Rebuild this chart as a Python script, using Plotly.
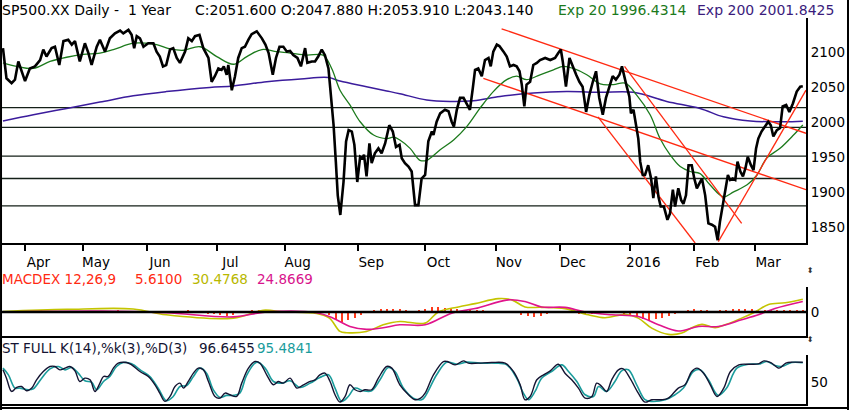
import plotly.graph_objects as go

# bar index (trading days) -> value
close_pts = [
    (0, 2106), (1.1, 2063), (2.7, 2056), (3.75, 2061), (4.8, 2087), (6.9, 2059), (8.4, 2077),
    (10, 2080), (11.6, 2089), (12.6, 2104), (13.6, 2094), (15.2, 2106), (16.25, 2108),
    (17.6, 2082), (18.9, 2116), (20.4, 2118), (21.5, 2111), (22.5, 2116), (24, 2087),
    (25.6, 2113), (26.7, 2099), (27.7, 2082), (29.3, 2108), (30.3, 2118), (31.9, 2101),
    (33.4, 2120), (35, 2127), (36.6, 2131), (37.6, 2127), (39.2, 2132), (40.2, 2125),
    (41, 2106), (41.8, 2123), (42.8, 2120), (43.9, 2108), (45.4, 2113), (47, 2113),
    (48, 2101), (49, 2094), (50, 2080), (51, 2082), (52.2, 2104), (53.2, 2106), (54.3, 2092),
    (55.3, 2085), (56.9, 2101), (57.9, 2120), (59, 2116), (60, 2123), (61.4, 2125),
    (62.6, 2106), (64.2, 2092), (65.2, 2058), (66.2, 2066), (67.3, 2077), (68.3, 2075),
    (69, 2080), (69.9, 2068), (70.4, 2082), (71.5, 2046), (72.5, 2066), (73.5, 2092),
    (74.6, 2106), (75.6, 2108), (76.7, 2118), (77.7, 2126), (79.3, 2130), (80.9, 2120),
    (82, 2111), (83, 2099), (84.3, 2068), (85.3, 2092), (86.4, 2108), (87.6, 2108),
    (88.7, 2101), (89.7, 2102), (90.7, 2096), (92, 2092), (93.1, 2080), (94.4, 2106),
    (95.1, 2085), (96.5, 2087), (97.5, 2087), (98.5, 2094), (99.6, 2104), (100.6, 2096),
    (101.7, 2077), (102.5, 2039), (103.3, 1996), (104, 1944), (104.6, 1896), (105.4, 1868),
    (106.4, 1915), (107.2, 1973), (108, 1989), (109, 1987), (109.8, 1968), (110.7, 1915),
    (111.6, 1951), (112.3, 1949), (112.8, 1954), (113.6, 1923), (114.5, 1970), (115.2, 1942),
    (116.2, 1956), (117.3, 1963), (118.3, 1956), (119.4, 1970), (120.7, 1996), (121.8, 1987),
    (122.8, 1965), (123.9, 1968), (124.6, 1949), (125.6, 1942), (126.7, 1937), (127.7, 1930),
    (128.75, 1882), (129.8, 1882), (130.8, 1920), (131.9, 1925), (132.9, 1973), (134, 1987),
    (134.5, 1982), (135.5, 2001), (136.6, 2013), (138.1, 2018), (139.2, 2016), (140.2, 2001),
    (140.9, 1994), (141.8, 2018), (142.8, 2035), (143.9, 2035), (144.9, 2027), (145.9, 2018),
    (146.8, 2049), (147.5, 2075), (148.5, 2077), (149.6, 2066), (150.6, 2089), (151.7, 2092),
    (152.4, 2080), (153.2, 2101), (154.3, 2111), (155.1, 2109), (156.4, 2101), (157.4, 2094),
    (158.4, 2080), (159.5, 2082), (160.5, 2080), (161.4, 2073), (162.1, 2054), (162.9, 2023),
    (163.6, 2054), (164.7, 2058), (165.7, 2082), (166.8, 2085), (167.8, 2089), (169.4, 2092),
    (171, 2089), (172.5, 2092), (173.5, 2099), (174.3, 2104), (174.9, 2087), (175.9, 2051),
    (177, 2092), (178, 2080), (179.1, 2068), (180.1, 2058), (181.1, 2051), (182.2, 2015),
    (183.2, 2039), (184.3, 2058), (185.3, 2073), (186.3, 2035), (187.4, 2011), (188.4, 2035),
    (189.5, 2051), (190.5, 2066), (191.5, 2061), (192.6, 2068), (193.4, 2080), (194, 2070),
    (194.9, 2051), (195.7, 2037), (196.2, 2013), (197, 2018), (197.8, 1996), (198.5, 1977),
    (199.1, 1944), (199.9, 1925), (200.6, 1925), (201.6, 1939), (202.5, 1920), (203.2, 1892),
    (204, 1923), (204.8, 1894), (205.5, 1880), (206.5, 1880), (207.6, 1861), (208.4, 1870),
    (209.3, 1904), (210, 1880), (211, 1906), (211.9, 1889), (212.6, 1884), (213.4, 1896),
    (214.2, 1939), (215.2, 1939), (216, 1920), (216.8, 1906), (217.6, 1913), (218.4, 1920),
    (219.4, 1896), (220.4, 1856), (221.5, 1854), (222.5, 1851), (223.3, 1832), (224, 1858),
    (224.9, 1882), (225.6, 1901), (226.5, 1925), (227.2, 1918), (228, 1920), (228.8, 1918),
    (229.5, 1944), (230.4, 1930), (231.2, 1923), (232, 1935), (232.7, 1951), (233.7, 1939),
    (234.5, 1932), (235.3, 1963), (236, 1977), (237, 1987), (238.1, 1994), (239.1, 2001),
    (239.9, 1996), (240.7, 1980), (241.8, 1989), (242.8, 1992), (243.6, 2023), (244.7, 2025),
    (245.7, 2015), (246.8, 2027), (248, 2044), (249.1, 2051), (249.9, 2051.6),
]

ema20_pts = [
    (0, 2085), (4.3, 2080), (9.5, 2077), (14.7, 2087), (19.9, 2093), (25.1, 2097), (30.3, 2099),
    (34.5, 2104), (40.7, 2113), (44.9, 2113), (48, 2111), (52.2, 2105), (56.4, 2103),
    (61.6, 2108), (66.8, 2094), (72, 2083), (76.2, 2094), (80.9, 2104), (85.5, 2101),
    (89.7, 2099), (94.9, 2096), (100, 2096), (102.7, 2077), (105.3, 2046), (108.4, 2025),
    (111.6, 2001), (115.8, 1982), (119.9, 1977), (122, 1979), (124, 1975), (127.2, 1963),
    (130.3, 1946), (132.4, 1946), (136.6, 1961), (140.8, 1975), (144.9, 1994), (149, 2020),
    (153.2, 2044), (157.4, 2061), (160.5, 2066), (163.6, 2061), (167.8, 2068), (172, 2075),
    (175.1, 2080), (178.2, 2077), (182.4, 2068), (186.6, 2055), (190.7, 2054), (194.4, 2056),
    (198, 2039), (202.2, 2011), (205.3, 1977), (208.4, 1954), (211.6, 1937), (214.7, 1930),
    (217.8, 1927), (220.9, 1911), (225.1, 1894), (228.3, 1901), (232.5, 1911), (235.6, 1925),
    (238.6, 1949), (242.8, 1963), (247, 1982), (249.9, 1996.4),
]

ema200_pts = [
    (0, 2002), (9.5, 2011), (19.9, 2020), (30.3, 2029), (40.7, 2038), (51, 2044), (64.6, 2050),
    (72, 2052), (82.4, 2058), (93, 2062), (101.7, 2064), (105.3, 2059), (113.6, 2051),
    (119.9, 2045), (124, 2041), (132.4, 2032), (139.7, 2030), (147, 2031), (155.3, 2037),
    (165.7, 2042), (176.1, 2044), (186.6, 2043), (197, 2043), (207.4, 2030), (217.8, 2020),
    (225.1, 2008), (233.5, 2002), (243.9, 2001), (249.9, 2001.8),
]

level_lines = [2021, 1993, 1952, 1920, 1881]

# trend lines: (day0, price0, day1, price1)
trend_lines = [
    (155.8, 2133.6, 250.9, 1984.5),
    (150.1, 2063, 250.9, 1904),
    (185.9, 2008, 216.25, 1828),
    (194.2, 2080, 230.8, 1856),
    (223.5, 1830, 250.9, 2046),
]

month_days = [7, 25, 45, 67, 88, 111, 132, 154, 174, 196, 216, 235]
month_names = ["Apr", "May", "Jun", "Jul", "Aug", "Sep", "Oct", "Nov", "Dec", "2016", "Feb", "Mar"]

macd_pts = [
    (0, 1), (19.9, 6), (40.7, 7), (51, -7), (72, -15), (81.3, 4), (87.6, 0), (98, -4),
    (102, -15), (105.3, -47), (107.4, -50), (113.6, -47), (118.8, -31), (124, -23),
    (131.9, -27), (136, 0), (142.3, 12), (147.5, 20), (154.8, 32), (159, 29), (163.1, 12),
    (168.3, 11), (175.6, 8), (182.9, -7), (188.1, -14), (194.4, -6), (198.5, -15),
    (202.7, -39), (207.9, -54), (212.1, -51), (215.2, -38), (218.4, -30), (222.5, -38),
    (225.6, -31), (230.8, -15), (235, 0), (239.2, 18), (244.4, 22), (249.9, 30.5),
]

signal_pts = [
    (0, 0), (31, 2), (51, -2), (72, -12), (82.4, 0), (98, -2), (103.2, -15), (108.4, -35),
    (113.6, -42), (118.8, -38), (124, -31), (131.9, -31), (140.2, -3), (147.5, 8),
    (157.9, 29), (163.1, 25), (168.3, 12), (175.6, 11), (181.9, 0), (190.2, -7),
    (198.5, -11), (204.8, -31), (211, -46), (217.3, -35), (223.5, -35), (230.8, -19),
    (236, -7), (241.2, 8), (249.9, 24.9),
]

hist_day = list(range(0, 251, 2))
hist_val = [
    1, -1, 1, 2, 1, 2, 3, 2, 1, 2, 1, -1, 1, 2, 1, 2, 1, 2, 3, 2, 1, -1, -2, -1, -2, -3,
    -1, 1, 2, 3, 2, -1, -4, -6, -8, -9, -7, -3, 2, 4, 5, 3, 1, -1, 1, 1, -1, -1, 1, -1, -2,
    -8, -18, -24, -20, -14, -8, -2, 3, 6, 8, 7, 6, 4, 2, 4,
    8, 11, 12, 10, 8, 6, 5, 4, 3, 3, 2, 2, 1, -1, -3,
    -8, -10, -12, -10, -6, -3, -2, -1, -3, -5, -6, -5, -4, -3, -2,
    -3, -6, -10, -14, -18, -20, -18, -14, -10, -5, 1, 4, 6, 5, 3, 2, 3, 5, 7, 8, 8, 7, 5,
    4, 4, 3, 3, 4, 5, 5.6,
]

stk_pts = [
    (0, 78.6), (1.1, 58.7), (2.7, 27), (4.3, 36.5), (5.8, 38.9), (7.4, 28.6), (9, 35),
    (10.5, 54.8), (12.6, 74.6), (14.7, 86.5), (16.25, 86.5), (17.8, 78.6), (19.4, 82.6),
    (20.9, 86.5), (22.5, 76.2), (24, 50.8), (25.6, 58.7), (27.2, 54.8), (28.75, 27),
    (30.3, 46.8), (31.4, 62.7), (32.9, 62.7), (34.5, 82.6), (36, 94.5), (38.6, 96),
    (40.2, 90.5), (42.8, 74.6), (45.4, 62.7), (47.5, 42.9), (49, 23), (50.6, 3.2),
    (52.2, 15), (53.75, 38.9), (55.3, 46.8), (56.4, 35), (57.9, 50.8), (59.5, 70.6),
    (61, 82.6), (62.6, 78.6), (64.2, 50.8), (66.25, 15), (67.8, 11.1), (69.4, 23),
    (70.9, 19.1), (73, 15), (74.6, 46.8), (76.7, 82.6), (78.75, 98.4), (80.3, 94.5),
    (82.4, 66.7), (84.5, 42.9), (86, 50.8), (87.6, 46.8), (89.7, 58.7), (91.8, 35),
    (93.9, 42.9), (96, 50.8), (97.5, 54.8), (99, 66.7), (100.6, 70.6), (102.2, 50.8),
    (103.75, 19.1), (105.3, 1.6), (106.9, 15), (108.4, 42.9), (110, 31), (111.6, 27),
    (113.1, 31), (115.2, 31), (117.3, 58.7), (119.9, 86.5), (121.5, 82.6), (124, 42.9),
    (126.7, 19.1), (128.75, 7.2), (130.5, 11.1), (131.9, 23), (134.5, 66.7), (137.6, 98.4),
    (138.8, 98.4), (141.25, 90.5), (143.9, 100), (145.4, 94.5), (148.5, 94.5), (152.7, 96),
    (156.9, 94.5), (159.5, 74.6), (161.6, 42.9), (163.1, 7.2), (164.7, 15), (166.8, 54.8),
    (168.9, 66.7), (171, 76.2), (173.5, 92), (175.6, 70.6), (177.7, 54.8), (179.8, 35),
    (181.9, 11.1), (184, 15), (185.5, 46.8), (187.1, 38.9), (188.6, 27), (190.2, 54.8),
    (192.3, 78.6), (193.8, 81), (195.9, 58.7), (198.5, 23), (200.6, 1.6), (202.7, 7.2),
    (205.8, 7.2), (207.9, 11.1), (211, 35), (213.1, 42.9), (215.2, 74.6), (216.8, 82.6),
    (218.9, 70.6), (221, 42.9), (223.1, 15), (225.2, 35), (227.3, 74.6), (229.9, 90.5),
    (233, 92), (236, 92.9), (237.8, 100), (239.9, 96), (242.5, 82.6), (244.6, 94.5),
    (246.7, 96.9), (249.9, 96.6),
]

std_pts = [
    (0, 82.6), (1.7, 66.7), (3.75, 35), (5.3, 35), (7.9, 31), (9.5, 33.3), (12.1, 58.7),
    (14.7, 81), (17.3, 86.5), (19.4, 78.6), (21.5, 84), (23.5, 70.6), (25.6, 52.4),
    (27.7, 49), (29.3, 31), (31.4, 50.8), (33.4, 62.7), (35.5, 86.5), (37.6, 96),
    (40.2, 92.9), (43.3, 76.2), (45.9, 62.7), (48.5, 35), (51.1, 4.8), (53.2, 15),
    (55.3, 38.9), (57.4, 41.3), (59.5, 62.7), (61.6, 82.6), (63.6, 70.6), (65.7, 31),
    (67.8, 12.7), (69.9, 17.5), (72, 17.5), (74, 23), (76.2, 66.7), (79.3, 96.9),
    (81.9, 82.6), (84.5, 50.8), (87.1, 46.8), (89.7, 52.4), (92.8, 36.5), (96, 46.8),
    (99, 60.3), (101.7, 66.7), (103.75, 35), (105.8, 3.2), (107.9, 15), (110, 35),
    (112.6, 28.6), (115.2, 28.6), (117.8, 54.8), (120.4, 84), (122.5, 74.6), (125.1, 35),
    (128.2, 11.1), (130.8, 7.2), (131.9, 15), (135.5, 66.7), (138.6, 96.9), (141.8, 92),
    (144.9, 96.9), (149, 94.5), (153.8, 94.5), (157.4, 90.5), (160.5, 58.7), (162.6, 23),
    (164.2, 7.2), (166.25, 27), (168.3, 58.7), (171.4, 74.6), (174.6, 90.5), (176.7, 74.6),
    (179.3, 50.8), (181.9, 19.1), (184.5, 15), (186.1, 38.9), (188.6, 27), (191.2, 50.8),
    (193.3, 76.2), (195.4, 78.6), (198, 42.9), (200.6, 7.2), (202.7, 3.2), (206.9, 7.2),
    (210, 19.1), (212.6, 35), (215.7, 74.6), (217.8, 78.6), (220.4, 54.8), (223.5, 17.5),
    (226.1, 35), (229.3, 82.6), (233, 92), (236.6, 92.9), (238.6, 98.4), (241.25, 88.9),
    (243.3, 86.5), (246.4, 96), (249.9, 95.5),
]

FONT = "DejaVu Sans"
W, H = 850, 410


def py(px):
    return 1 - px / H


def px_x(px):
    return px / W


def xy(pts):
    return [p[0] for p in pts], [p[1] for p in pts]


fig = go.Figure()

cx, cy = xy(close_pts)
e20x, e20y = xy(ema20_pts)
e200x, e200y = xy(ema200_pts)

fig.add_trace(go.Scatter(x=e200x, y=e200y, mode="lines", line=dict(color="#3b1c9c", width=1.5, shape="spline"),
                         xaxis="x", yaxis="y"))
fig.add_trace(go.Scatter(x=e20x, y=e20y, mode="lines", line=dict(color="#1c7a1c", width=1.3, shape="spline"),
                         xaxis="x", yaxis="y"))
for d0, p0, d1, p1 in trend_lines:
    fig.add_trace(go.Scatter(x=[d0, d1], y=[p0, p1], mode="lines", line=dict(color="#ff2a12", width=1.3),
                             xaxis="x", yaxis="y"))
fig.add_trace(go.Scatter(x=cx, y=cy, mode="lines", line=dict(color="black", width=2.6),
                         xaxis="x", yaxis="y"))

# MACD panel
mx, my = xy(macd_pts)
sx, sy = xy(signal_pts)
fig.add_trace(go.Bar(x=hist_day, y=hist_val, width=0.4, marker=dict(color="#ff3a1a", line_width=0),
                     xaxis="x2", yaxis="y2"))
fig.add_trace(go.Scatter(x=mx, y=my, mode="lines", line=dict(color="#c4c400", width=1.6, shape="spline"),
                         xaxis="x2", yaxis="y2"))
fig.add_trace(go.Scatter(x=sx, y=sy, mode="lines", line=dict(color="#e0148c", width=1.6, shape="spline"),
                         xaxis="x2", yaxis="y2"))

# stochastic panel
kx, ky = xy(stk_pts)
dx, dy = xy(std_pts)
fig.add_trace(go.Scatter(x=dx, y=dy, mode="lines", line=dict(color="#1a9c9c", width=1.6, shape="spline"),
                         xaxis="x3", yaxis="y3"))
fig.add_trace(go.Scatter(x=kx, y=ky, mode="lines", line=dict(color="#141432", width=1.4, shape="spline"),
                         xaxis="x3", yaxis="y3"))

xdom = [px_x(2), px_x(806)]
xrange = [-0.3, 250.9]
axis_font = dict(family=FONT, size=13.5, color="black")

shapes = []
for lv in level_lines:
    shapes.append(dict(type="line", xref="x domain", yref="y", x0=0, x1=1, y0=lv, y1=lv,
                       line=dict(color="#142018", width=1.3), layer="below"))
shapes.append(dict(type="line", xref="x2 domain", yref="y2", x0=0, x1=1, y0=0, y1=0,
                   line=dict(color="black", width=2.5)))
# outer frame
shapes.append(dict(type="line", xref="paper", yref="paper", x0=0.0012, x1=0.0012, y0=0, y1=1,
                   line=dict(color="black", width=2)))
shapes.append(dict(type="line", xref="paper", yref="paper", x0=px_x(848), x1=px_x(848), y0=0, y1=1,
                   line=dict(color="black", width=2)))
shapes.append(dict(type="line", xref="paper", yref="paper", x0=0, x1=px_x(848), y0=py(408), y1=py(408),
                   line=dict(color="black", width=2)))

annotations = []


def label(text, xpx, ypx, color, size=14):
    annotations.append(dict(text=text, xref="paper", yref="paper", x=px_x(xpx), y=py(ypx),
                            xanchor="left", yanchor="middle", showarrow=False,
                            font=dict(family=FONT, size=size, color=color)))


label("SP500.XX Daily -&nbsp; 1 Year", 0, 10, "black")
label("C:2051.600 O:2047.880 H:2053.910 L:2043.140", 193, 10, "black")
label("Exp 20 1996.4314", 556, 10, "#1c7a1c")
label("Exp 200 2001.8425", 695, 10, "#3b1c7c")
label("MACDEX 12,26,9", 0, 279, "#ff2a12", 13.5)
label("5.6100", 133, 279, "#ff2a12", 13.5)
label("30.4768", 190, 279, "#b8b800", 13.5)
label("24.8669", 255, 279, "#d8148c", 13.5)
label("ST FULL K(14),%k(3),%D(3)", 0, 348, "#141432", 13.5)
label("96.6455", 197, 348, "#141432", 13.5)
label("95.4841", 255, 348, "#1a9c9c", 13.5)
# small scroll arrows at the right edge of the MACD pane
label("⬍", 805, 270, "#333333", 8)
label("⬍", 805, 339, "#333333", 8)

fig.update_layout(
    width=W, height=H,
    margin=dict(l=0, r=0, t=0, b=0),
    paper_bgcolor="white", plot_bgcolor="white",
    showlegend=False,
    bargap=0,
    font=dict(family=FONT, size=13, color="black"),
    xaxis=dict(domain=xdom, range=xrange, anchor="y", tickvals=month_days, ticktext=month_names,
               ticks="outside", ticklen=6, tickwidth=2, tickcolor="black", showline=True,
               linecolor="black", linewidth=2, showgrid=False, zeroline=False, tickfont=axis_font,
               ticklabelshift=13),
    yaxis=dict(domain=[py(243), py(18)], range=[1828, 2149], anchor="x", side="right",
               tickvals=[1850, 1900, 1950, 2000, 2050, 2100], ticks="", showline=True,
               linecolor="black", linewidth=2, showgrid=False, zeroline=False, tickfont=axis_font),
    xaxis2=dict(domain=xdom, range=xrange, anchor="y2", showticklabels=False, ticks="",
                showline=True, linecolor="black", linewidth=2, showgrid=False, zeroline=False),
    yaxis2=dict(domain=[py(336), py(287)], range=[-58, 60], anchor="x2", side="right",
                tickvals=[0], ticks="", showline=True, linecolor="black", linewidth=2,
                showgrid=False, zeroline=False, tickfont=axis_font),
    xaxis3=dict(domain=xdom, range=xrange, anchor="y3", showticklabels=False, ticks="",
                showline=True, linecolor="black", linewidth=2, showgrid=False, zeroline=False),
    yaxis3=dict(domain=[py(404), py(355)], range=[-3, 114], anchor="x3", side="right",
                tickvals=[50], ticks="", showline=True, linecolor="black", linewidth=2,
                showgrid=False, zeroline=False, tickfont=axis_font),
    shapes=shapes,
    annotations=annotations,
)

# the page's default body margin would push the figure off the 850x410 window
fig.write_html("out.html", config={"displayModeBar": False},
               post_script="document.body.style.margin='0';")
